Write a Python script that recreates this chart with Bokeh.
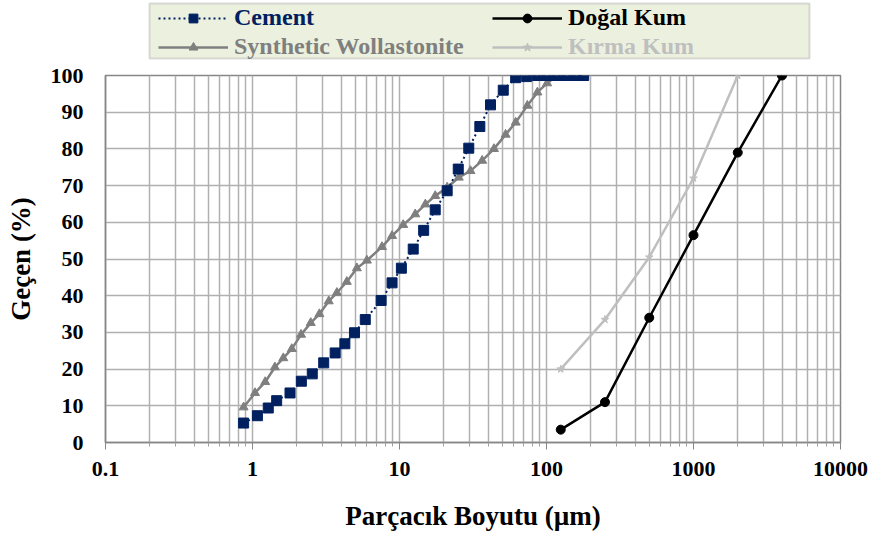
from bokeh.plotting import figure
from bokeh.models import Range1d, FixedTicker, Legend, LegendItem, BoxAnnotation
from bokeh.layouts import column
from bokeh.embed import file_html
from bokeh.resources import INLINE

# ---- data ----
cement_size = [0.87, 1.08, 1.28, 1.46, 1.80, 2.15, 2.55, 3.05, 3.65, 4.25, 4.94, 5.85,
               7.5, 8.9, 10.3, 12.4, 14.6, 17.5, 21.1, 25.1, 29.6, 35.2, 41.6, 50.8,
               61.7, 73.3, 86.7, 101, 118, 138, 160, 179]
cement_pass = [5.3, 7.3, 9.4, 11.4, 13.5, 16.7, 18.7, 21.7, 24.4, 26.9, 29.9, 33.5,
               38.7, 43.5, 47.5, 52.7, 57.8, 63.4, 68.6, 74.5, 80.2, 86.1, 92.0, 96.0,
               99.4, 99.7, 100, 100, 100, 100, 100, 100]

wol_size = [0.87, 1.04, 1.22, 1.42, 1.62, 1.85, 2.14, 2.49, 2.85, 3.3, 3.75, 4.38,
            5.13, 6.0, 7.6, 8.9, 10.6, 12.8, 15.0, 17.5, 21.1, 25.3, 30.4, 36.5,
            43.9, 52.7, 61.7, 74.1, 86.7, 101, 118, 139, 160, 180]
wol_pass = [9.6, 13.5, 16.5, 20.5, 23.0, 25.5, 29.4, 32.6, 35.0, 38.5, 40.8, 43.8,
            47.5, 49.6, 53.3, 56.3, 59.3, 62.2, 64.9, 67.2, 69.5, 72.2, 74.0, 76.8,
            80.0, 83.9, 87.2, 91.8, 95.4, 97.9, 100, 100, 100, 100]

dogal_size = [125, 250, 500, 1000, 2000, 4000]
dogal_pass = [3.5, 11.0, 34.0, 56.5, 79.0, 100.0]

kirma_size = [125, 250, 500, 1000, 2000]
kirma_pass = [20.0, 33.5, 50.5, 72.0, 100.0]

x_ticks = [0.1, 1, 10, 100, 1000, 10000]
x_tick_labels = ["0.1", "1", "10", "100", "1000", "10000"]
y_ticks = [0, 10, 20, 30, 40, 50, 60, 70, 80, 90, 100]

series_names = ["Cement", "Doğal Kum", "Synthetic Wollastonite", "Kırma Kum"]
x_title = "Parçacık Boyutu (µm)"
y_title = "Geçen (%)"

# ---- styles ----
NAVY = "#002060"
WOL = "#7f7f7f"
KIRMA = "#bfbfbf"
DOGAL = "#000000"
GRID = "#b0b0b0"
FONT = "Liberation Serif"

W = 878
LEG_H = 62
MAIN_H = 477
BL, BR = 105, 38

# ---- main figure ----
p = figure(width=W, height=MAIN_H, x_axis_type="log",
           x_range=Range1d(0.1, 10000), y_range=Range1d(0, 100),
           output_backend="svg", toolbar_location=None,
           min_border_left=BL, min_border_right=BR,
           min_border_top=13, min_border_bottom=97)

minor = [m * d for d in [0.1, 1, 10, 100, 1000] for m in range(2, 10)]
p.xaxis.ticker = FixedTicker(ticks=x_ticks, minor_ticks=minor)
p.xaxis.major_label_overrides = {t: l for t, l in zip(x_ticks, x_tick_labels)}
p.yaxis.ticker = FixedTicker(ticks=y_ticks)

for ax in (p.xaxis[0], p.yaxis[0]):
    ax.major_label_text_font = FONT
    ax.major_label_text_font_style = "bold"
    ax.major_label_text_font_size = "22px"
    ax.major_label_text_color = "black"
    ax.axis_label_text_font = FONT
    ax.axis_label_text_font_style = "bold"
    ax.axis_label_text_font_size = "27px"
    ax.axis_label_text_color = "black"
    ax.axis_line_color = "#868686"
    ax.axis_line_width = 1.5
    ax.major_tick_line_color = "#868686"
    ax.minor_tick_line_color = "#a0a0a0"
    ax.major_tick_in = 0
    ax.minor_tick_in = 0

p.xaxis.axis_label = x_title
p.yaxis.axis_label = y_title
p.xaxis.major_tick_out = 7
p.xaxis.minor_tick_out = 4
p.xaxis.major_label_standoff = 12
p.xaxis.axis_label_standoff = 22
p.yaxis.major_tick_out = 0
p.yaxis.minor_tick_out = 0
p.yaxis.major_label_standoff = 22
p.yaxis.axis_label_standoff = 12

p.xgrid.grid_line_color = GRID
p.xgrid.grid_line_width = 1.5
p.xgrid.minor_grid_line_color = GRID
p.xgrid.minor_grid_line_width = 1.5
p.ygrid.grid_line_color = GRID
p.ygrid.grid_line_width = 1.5
p.outline_line_color = "#868686"
p.outline_line_width = 1.5

p.line(kirma_size, kirma_pass, line_color=KIRMA, line_width=2.5)
p.scatter(kirma_size, kirma_pass, marker="star", size=8, color=KIRMA)

p.line(dogal_size, dogal_pass, line_color=DOGAL, line_width=2.5)
p.scatter(dogal_size, dogal_pass, marker="circle", size=9, color=DOGAL)

p.line(wol_size, wol_pass, line_color=WOL, line_width=2.5)
p.scatter(wol_size, wol_pass, marker="triangle", size=9, color=WOL)

p.line(cement_size, cement_pass, line_color=NAVY, line_width=2, line_dash="2 3")
p.scatter(cement_size, cement_pass, marker="square", size=10, color=NAVY)

# ---- legend figure (same frame as main; 1 data unit = 1 px) ----
lg = figure(width=W, height=LEG_H, x_range=Range1d(0, W - BL - BR), y_range=Range1d(0, LEG_H),
            x_axis_type=None, y_axis_type=None,
            output_backend="svg", toolbar_location=None,
            min_border_left=BL, min_border_right=BR,
            min_border_top=0, min_border_bottom=0)
lg.background_fill_color = "white"
lg.border_fill_color = "white"
lg.outline_line_color = None
lg.grid.visible = False
# renderers feeding the legend keys use the real series on a range that keeps them out of view
lg.extra_y_ranges = {"hidden": Range1d(1000, 1001)}

lg.add_layout(BoxAnnotation(left=44, right=704, bottom=4, top=59,
                            fill_color="#ebf1de", fill_alpha=1,
                            line_color="#8c8c8c", line_width=2))

series_data = {
    "Cement": (cement_size, cement_pass),
    "Doğal Kum": (dogal_size, dogal_pass),
    "Synthetic Wollastonite": (wol_size, wol_pass),
    "Kırma Kum": (kirma_size, kirma_pass),
}
styles = {
    "Cement": dict(color=NAVY, dash="2 3", marker="square", width=2),
    "Doğal Kum": dict(color=DOGAL, dash="solid", marker="circle", width=2.5),
    "Synthetic Wollastonite": dict(color=WOL, dash="solid", marker="triangle", width=2.5),
    "Kırma Kum": dict(color=KIRMA, dash="solid", marker="star", width=2.5),
}
positions = {
    "Cement": (53, 31),
    "Doğal Kum": (387, 31),
    "Synthetic Wollastonite": (53, 2),
    "Kırma Kum": (387, 2),
}
for name in series_names:
    st = styles[name]
    xs, ys = series_data[name]
    lr = lg.line(xs, ys, line_color=st["color"], line_width=st["width"],
                 line_dash=st["dash"], y_range_name="hidden")
    sr = lg.scatter(xs, ys, marker=st["marker"], size=9, color=st["color"],
                    y_range_name="hidden")
    leg = Legend(items=[LegendItem(label=name, renderers=[lr, sr])],
                 location=positions[name], padding=0, margin=0, spacing=0,
                 border_line_color=None, background_fill_alpha=0,
                 glyph_width=70, glyph_height=22, label_height=22,
                 label_standoff=6,
                 label_text_font=FONT, label_text_font_style="bold",
                 label_text_font_size="24px", label_text_color=st["color"])
    lg.add_layout(leg, "center")

layout = column(lg, p, spacing=0)
open("out.html", "w").write(file_html(layout, INLINE))
